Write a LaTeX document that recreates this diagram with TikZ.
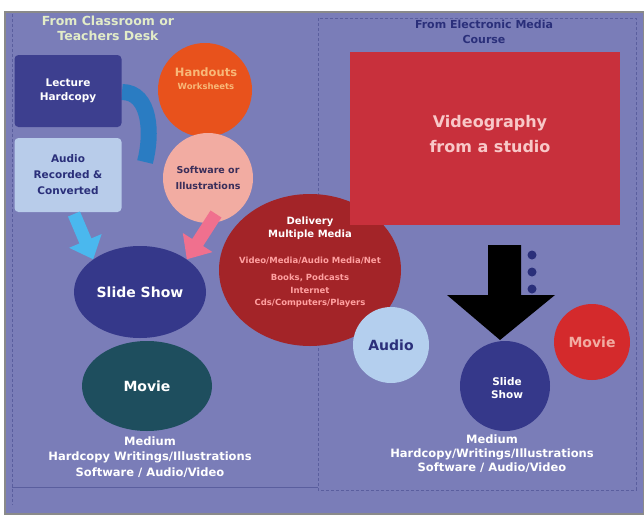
\documentclass[tikz,border=0pt]{standalone}
\usepackage{fontspec}
\setmainfont{DejaVu Sans}
\usetikzlibrary{arrows.meta,shapes.geometric}
\definecolor{bg}{HTML}{7A7DB8}
\definecolor{frame}{HTML}{8A8A8A}
\definecolor{panel}{HTML}{5A5E9E}
\definecolor{lecblue}{HTML}{3D3F8F}
\definecolor{audbox}{HTML}{B8CCEA}
\definecolor{curvblue}{HTML}{2A7CC2}
\definecolor{orangec}{HTML}{E8521C}
\definecolor{orangetxt}{HTML}{F8B878}
\definecolor{pinkc}{HTML}{F2ACA2}
\definecolor{delred}{HTML}{A32428}
\definecolor{slideblue}{HTML}{35388A}
\definecolor{movieteal}{HTML}{1E4E5E}
\definecolor{arrlblue}{HTML}{4AB8EE}
\definecolor{arrpink}{HTML}{F0708E}
\definecolor{vidred}{HTML}{C8303C}
\definecolor{audioc}{HTML}{B4CFEE}
\definecolor{moviered}{HTML}{D42A2C}
\definecolor{navy}{HTML}{2A2F7A}
\definecolor{softtxt}{HTML}{3A2E5A}
\definecolor{titlegreen}{HTML}{E2ECC8}
\definecolor{delpink}{HTML}{FFA0A0}
\definecolor{vidtext}{HTML}{F8C8C8}
\newcommand{\fs}[2]{\fontsize{#1pt}{#2pt}\selectfont}
\tikzset{
  txt/.style={font=\bfseries, align=center, inner sep=0pt},
  wtxt/.style={txt, text=white},
  circ/.style={circle, inner sep=0pt},
  ell/.style={ellipse, inner sep=0pt},
  boxr/.style={rounded corners=4pt, inner sep=0pt},
  panelline/.style={draw=panel, line width=0.8pt, dash pattern=on 3pt off 2pt},
  blockarr/.style={line width=13pt, -{Triangle[length=20pt,width=34pt]}},
}
\begin{document}
\begin{tikzpicture}[x=1pt,y=-1pt]
\useasboundingbox (0,0) rectangle (644,514);
\fill[white] (0,0) rectangle (644,514);
\fill[bg, draw=frame, line width=1.5pt] (5,12) rectangle (644,514);
% panel lines
\draw[panelline] (12,14) -- (12,505);
\draw[panelline] (318,18) rectangle (636,490);
\draw[panel, line width=0.8pt] (12,487) -- (318,487);

% titles
\node[txt, text=titlegreen, font=\bfseries\fs{12.5}{15}] (t1) at (108,28) {From Classroom or\\Teachers Desk};
\node[txt, text=navy, font=\bfseries\fs{11}{15}] (t2) at (484,32) {From Electronic Media\\Course};

% curved blue arrow (behind circles)
\coordinate (cs) at (122,92);
\coordinate (ce) at (145,162);
\draw[curvblue, line width=16pt] (cs) to[out=0, in=75] (ce);

% left boxes
\node[boxr, fill=lecblue, minimum width=107pt, minimum height=72pt, wtxt, font=\bfseries\fs{10.5}{14}] (lec) at (68,91) {Lecture\\Hardcopy};
\node[boxr, fill=audbox, minimum width=107pt, minimum height=74pt, txt, text=navy, font=\bfseries\fs{10.5}{16}] (aud) at (68,175) {Audio\\Recorded \&\\Converted};

% circles
\node[circ, fill=orangec, minimum size=94pt] (hand) at (205,90) {};
\node[txt, text=orangetxt, font=\bfseries\fs{11.5}{13}] (handt) at (206,79) {Handouts\\{\fs{8.5}{10}Worksheets}};
\node[circ, fill=pinkc, minimum size=90pt, txt, text=softtxt, font=\bfseries\fs{9.5}{16}] (soft) at (208,178) {Software or\\Illustrations};

% slide show and movie
\node[ell, fill=slideblue, minimum width=132pt, minimum height=92pt, wtxt, font=\bfseries\fs{14}{17}] (slide) at (140,292) {Slide Show};
\node[ell, fill=movieteal, minimum width=130pt, minimum height=90pt, wtxt, font=\bfseries\fs{14}{17}] (movie) at (147,386) {Movie};

% arrows into slide show
\coordinate (a1) at (74,214);
\coordinate (a2) at (216,214);
\draw[arrlblue, blockarr] (a1) -- (slide.north west);
\draw[arrpink, blockarr] (a2) -- (slide.north east);

% delivery circle
\node[ell, fill=delred, minimum width=182pt, minimum height=152pt] (del) at (310,270) {};
\node[wtxt, font=\bfseries\fs{10}{13}] (delt) at (310,228) {Delivery\\Multiple Media};
\node[txt, text=delpink, font=\bfseries\fs{8.5}{12.5}] (dell) at (310,282) {Video/Media/Audio Media/Net\\[5pt]Books, Podcasts\\Internet\\Cds/Computers/Players};

% videography
\node[fill=vidred, minimum width=270pt, minimum height=173pt, inner sep=0pt] (vid) at (485,138) {};
\node[txt, text=vidtext, font=\bfseries\fs{16}{25}] (vidt) at (490,134) {Videography\\from a studio};

% black down arrow
\coordinate (darr) at (500,340);
\fill[black] (488,245) -- (521,245) -- (521,295) -- (555,295) -- (darr) -- (447,295) -- (488,295) -- cycle;
% dots
\node[circ, fill=navy, minimum size=9pt] (d1) at (532,255) {};
\node[circ, fill=navy, minimum size=9pt] (d2) at (532,272) {};
\node[circ, fill=navy, minimum size=9pt] (d3) at (532,289) {};

% right circles
\node[circ, fill=audioc, minimum size=76pt, txt, text=navy, font=\bfseries\fs{14}{16}] (audio) at (391,345) {Audio};
\node[circ, fill=slideblue, minimum size=90pt] (slide2) at (505,386) {};
\node[wtxt, font=\bfseries\fs{10.5}{13}] (slide2t) at (507,388) {Slide\\Show};
\node[circ, fill=moviered, minimum size=76pt, txt, text=pinkc, font=\bfseries\fs{14}{16}] (movie2) at (592,342) {Movie};

% bottom texts
\node[wtxt, font=\bfseries\fs{11.5}{15.5}] (med1) at (150,457) {Medium\\Hardcopy Writings/Illustrations\\Software / Audio/Video};
\node[wtxt, font=\bfseries\fs{11.5}{14}] (med2) at (492,454) {Medium\\Hardcopy/Writings/Illustrations\\Software / Audio/Video};
\end{tikzpicture}
\end{document}
